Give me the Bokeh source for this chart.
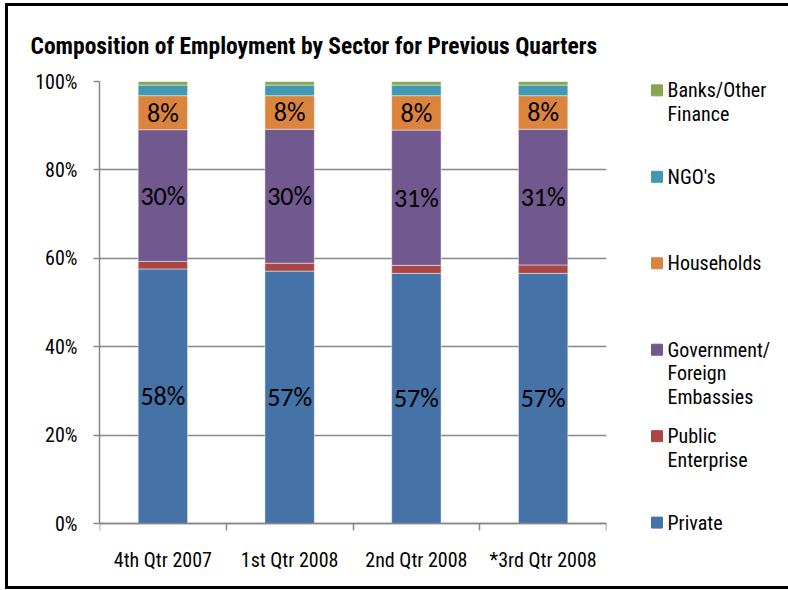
from bokeh.plotting import figure
from bokeh.layouts import row
from bokeh.models import (FixedTicker, PrintfTickFormatter, Range1d, ColumnDataSource,
                          LinearAxis)
from bokeh.core.properties import value
from bokeh.embed import file_html
from bokeh.resources import INLINE

# ---------------- data ----------------
quarters = ["4th Qtr 2007", "1st Qtr 2008", "2nd Qtr 2008", "*3rd Qtr 2008"]
private = [57.6, 57.1, 56.6, 56.6]
public_enterprise = [1.7, 1.8, 1.8, 1.9]
government = [29.8, 30.3, 30.6, 30.7]
households = [7.7, 7.6, 7.8, 7.6]
ngos = [2.4, 2.4, 2.4, 2.4]
banks = [0.8, 0.8, 0.8, 0.8]
series_keys = ["private", "public", "government", "households", "ngos", "banks"]
legend_labels = ["Private", "Public\nEnterprise", "Government/\nForeign\nEmbassies",
                 "Households", "NGO's", "Banks/Other\nFinance"]
colors = ["#4572A7", "#AA4643", "#71588F", "#DB843D", "#4198AF", "#89A54E"]
labelled = ["private", "government", "households"]
y_ticks = [0, 20, 40, 60, 80, 100]
title_text = "Composition of Employment by Sector for Previous Quarters"

FONT = "Roboto Condensed"
LBL_FONT = "Carlito"
H = 580
TOP, BOTTOM = 75, 53
EXT_PX = 10                      # frame extends this far below the 0% line
GRID = "#878787"
PX = (H - TOP - BOTTOM - EXT_PX) / 100.0  # pixels per percent
Y_MIN = -EXT_PX / PX

x = [i + 0.5 for i in range(len(quarters))]
bounds_x = list(range(len(quarters) + 1))
data = dict(x=x, private=private, public=public_enterprise, government=government,
            households=households, ngos=ngos, banks=banks)
src = ColumnDataSource(data)

yr = Range1d(Y_MIN, 100)
p = figure(width=602, height=H, x_range=Range1d(0, len(quarters)), y_range=yr,
           output_backend="svg", toolbar_location=None,
           min_border_left=91, min_border_right=4, min_border_top=TOP, min_border_bottom=BOTTOM,
           title=title_text)
p.outline_line_color = None
p.background_fill_color = "white"
p.border_fill_color = "white"

p.title.text_font = FONT
p.title.text_font_size = "23.5px"
p.title.text_font_style = "bold"
p.title.text_color = "black"
p.title.align = "left"
p.title.offset = -69
p.title.standoff = 43

p.vbar_stack(series_keys, x="x", width=0.39, source=src, fill_color=colors,
             line_color="white", line_width=0.8, line_alpha=0.6)

# data labels
lx, ly, lt = [], [], []
for i in range(len(quarters)):
    base = 0.0
    for k in series_keys:
        v = data[k][i]
        if k in labelled:
            lx.append(x[i]); ly.append(base + v / 2); lt.append(f"{round(v)}%")
        base += v
p.text(x=lx, y=ly, text=lt, text_align="center", text_baseline="middle",
       text_font=value(LBL_FONT), text_font_size="26px", text_color="black")

# grid
p.xgrid.visible = False
p.ygrid.ticker = FixedTicker(ticks=y_ticks)
p.ygrid.grid_line_color = GRID
p.ygrid.grid_line_width = 1.5

# y axis
p.yaxis.ticker = FixedTicker(ticks=y_ticks)
p.yaxis.formatter = PrintfTickFormatter(format="%d%%")
p.yaxis.bounds = (0, 100)
p.yaxis.major_tick_out = 6
p.yaxis.major_tick_in = 0
p.yaxis.minor_tick_out = 0
p.yaxis.minor_tick_in = 0
p.yaxis.major_label_standoff = 16
p.yaxis.axis_line_color = GRID
p.yaxis.axis_line_width = 1.5
p.yaxis.major_tick_line_color = GRID
p.yaxis.major_tick_line_width = 1.5
p.yaxis.major_label_text_font = FONT
p.yaxis.major_label_text_font_size = "20px"
p.yaxis.major_label_text_color = "black"

# x axis: category labels (below the frame)
p.xaxis.ticker = FixedTicker(ticks=x)
p.xaxis.major_label_overrides = {xx: q for xx, q in zip(x, quarters)}
p.xaxis.axis_line_color = None
p.xaxis.major_tick_line_color = None
p.xaxis.minor_tick_line_color = None
p.xaxis.major_tick_out = 0
p.xaxis.major_tick_in = 0
p.xaxis.minor_tick_out = 0
p.xaxis.minor_tick_in = 0
p.xaxis.major_label_standoff = 14
p.xaxis.major_label_text_font = FONT
p.xaxis.major_label_text_font_size = "20px"
p.xaxis.major_label_text_color = "black"

# x axis: line and category-boundary ticks at the 0% line
xa2 = LinearAxis(fixed_location=0, ticker=FixedTicker(ticks=[], minor_ticks=bounds_x),
                 axis_line_color=GRID, axis_line_width=1.5,
                 major_tick_out=0, major_tick_in=0,
                 minor_tick_out=7, minor_tick_in=0,
                 minor_tick_line_color=GRID, minor_tick_line_width=1.5,
                 major_label_standoff=0, major_label_text_font_size="1px")
p.add_layout(xa2, "below")

# legend panel (shares the vertical scale of the plot)
lg = figure(width=178, height=H, x_range=Range1d(0, 178), y_range=yr,
            x_axis_type=None, y_axis_type=None,
            output_backend="svg", toolbar_location=None,
            min_border_left=0, min_border_right=0, min_border_top=TOP, min_border_bottom=BOTTOM)
lg.outline_line_color = None
lg.grid.visible = False
lg.border_fill_color = "white"

step = 19.56
leg_y = [0.2 + i * step for i in range(len(series_keys))]
lg.scatter(x=[46.5] * len(series_keys), y=leg_y, marker="square", size=11,
           fill_color=colors, line_color=colors)
tx, ty, tt = [], [], []
for yy, lab in zip(leg_y, legend_labels):
    for j, line in enumerate(lab.split("\n")):
        tx.append(57); ty.append(yy - j * 23.5 / PX); tt.append(line)
lg.text(x=tx, y=ty, text=tt, text_align="left", text_baseline="middle",
        text_font=value(FONT), text_font_size="20px", text_color="black")

layout = row(p, lg, margin=(3, 0, 0, 5),
             styles={"border-left": "3px solid black", "border-top": "3px solid black",
                     "border-bottom": "3px solid black"})

open("out.html", "w").write(file_html(layout, INLINE))
